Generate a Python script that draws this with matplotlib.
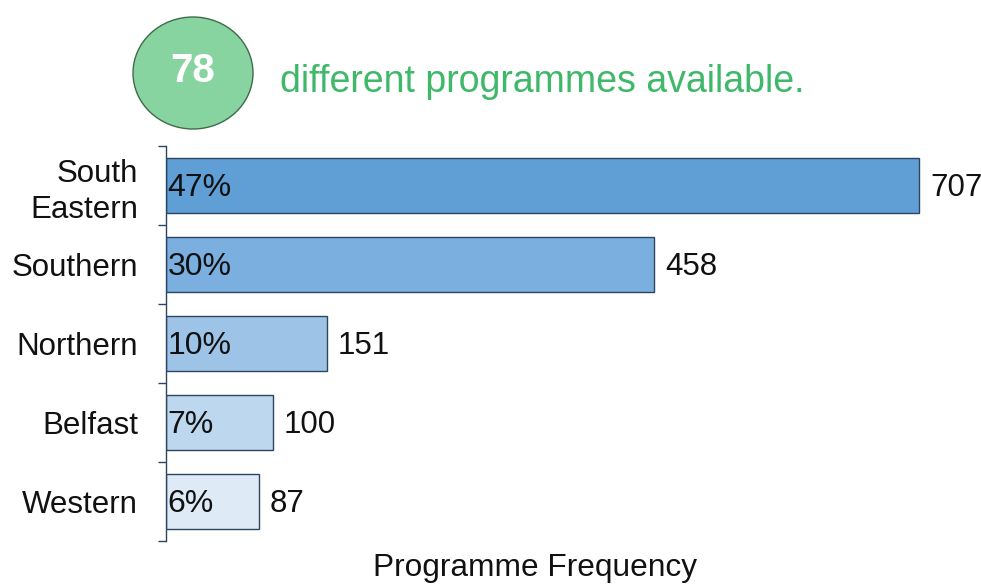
import matplotlib
matplotlib.use("Agg")
import matplotlib.pyplot as plt
from matplotlib.patches import Ellipse

plt.rcParams['font.family'] = ['Liberation Sans', 'DejaVu Sans']

categories = ["South\nEastern", "Southern", "Northern", "Belfast", "Western"]
values = [707, 458, 151, 100, 87]
percent_labels = ["47%", "30%", "10%", "7%", "6%"]
bar_colors = ["#5f9fd6", "#7aafdf", "#9dc3e6", "#bdd7ee", "#deebf7"]
programme_count = "78"
headline = "different programmes available."
xlabel = "Programme Frequency"

W, H = 981, 584
fig = plt.figure(figsize=(W / 100, H / 100), dpi=100)
ax = fig.add_axes([166 / W, 1 - 541 / H, (980 - 166) / W, (541 - 146) / H])

n = len(categories)
ypos = list(range(n))
ax.barh(ypos, values, height=0.7, color=bar_colors, edgecolor="#2d4560", linewidth=1.0)
ax.set_ylim(n - 0.5, -0.5)
ax.set_xlim(0, (980 - 166) / ((919 - 166) / 707))

for y, v, p in zip(ypos, values, percent_labels):
    ax.annotate(p, (0, y), xytext=(1, -1.5), textcoords="offset points",
                va="center", ha="left", fontsize=23, color="#111111")
    ax.annotate(str(v), (v, y), xytext=(8, -1.5), textcoords="offset points",
                va="center", ha="left", fontsize=22.5, color="#111111")

# spines & ticks
for s in ["top", "right", "bottom"]:
    ax.spines[s].set_visible(False)
ax.spines["left"].set_color("#2d4560")
ax.spines["left"].set_linewidth(1.0)
ax.set_xticks([])
ax.set_yticks([i - 0.5 for i in range(n + 1)], minor=False)
ax.set_yticklabels([])
ax.tick_params(axis="y", which="major", length=6, color="#2d4560", width=1.0)
ax.set_yticks(ypos, minor=True)
ax.set_yticklabels(categories, minor=True, fontsize=22.5, color="#111111", linespacing=1.25)
ax.tick_params(axis="y", which="minor", length=0, pad=20)

ax.set_xlabel(xlabel, fontsize=22.8, color="#111111")
ax.xaxis.set_label_coords((535 - 166) / (980 - 166), -0.03)

# circle with number
ell = Ellipse((193 / W, 1 - 73 / H), width=120 / W, height=112 / H,
              transform=fig.transFigure, facecolor="#88d4a0", edgecolor="#3e6b4a", linewidth=1.0)
fig.add_artist(ell)
fig.text(193 / W, 1 - 71 / H, programme_count, ha="center", va="center", fontsize=29,
         fontweight="bold", color="white")
fig.text(280 / W, 1 - 82 / H, headline, ha="left", va="center", fontsize=27, color="#3fb86a")

fig.savefig("out.png", dpi=100)
